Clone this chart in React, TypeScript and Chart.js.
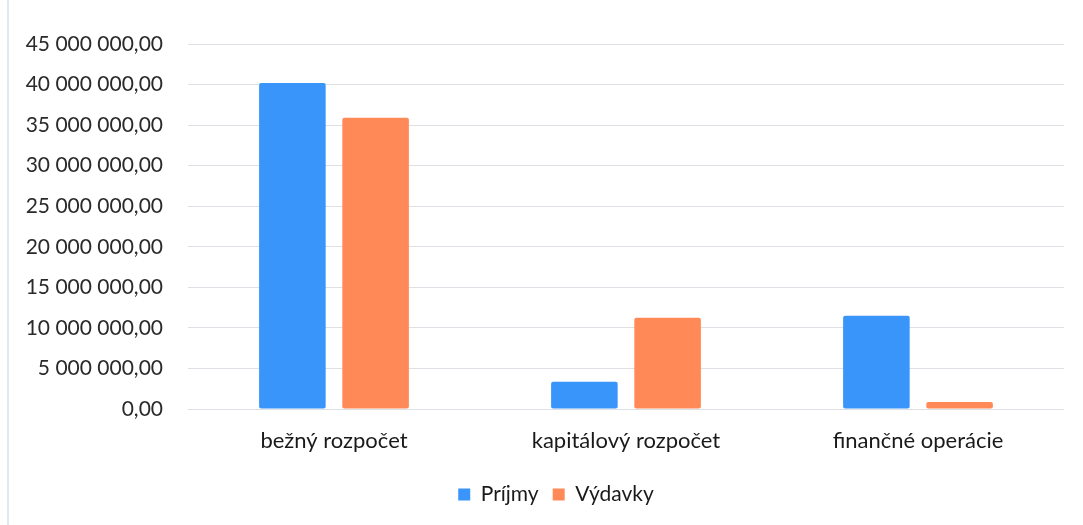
import React, { useEffect, useRef } from "react";
import { Chart, registerables } from "chart.js";

Chart.register(...registerables);

const categories = ["bežný rozpočet", "kapitálový rozpočet", "finančné operácie"];
const prijmy = [40200000, 3350000, 11500000];
const vydavky = [35900000, 11250000, 870000];
const seriesNames = ["Príjmy", "Výdavky"];
const yMax = 45000000;
const yStep = 5000000;

const FONT = "Lato, 'Open Sans', sans-serif";

function fmt(v: number): string {
  const [i, d] = Math.abs(v).toFixed(2).split(".");
  const withSpaces = i.replace(/\B(?=(\d{3})+(?!\d))/g, " ");
  return (v < 0 ? "-" : "") + withSpaces + "," + d;
}

const shiftLegend = {
  id: "shiftLegend",
  afterLayout(chart: any) {
    if (chart.legend) {
      chart.legend.left += 20;
      chart.legend.right += 20;
    }
  },
};

export default function App() {
  const ref = useRef<HTMLCanvasElement | null>(null);
  useEffect(() => {
    if (!ref.current) return;
    const chart = new Chart(ref.current, {
      type: "bar",
      data: {
        labels: categories,
        datasets: [
          {
            label: seriesNames[0],
            data: prijmy,
            backgroundColor: "#3a95fb",
            borderRadius: 2,
            borderSkipped: false,
            categoryPercentage: 0.57,
            barPercentage: 0.8,
          },
          {
            label: seriesNames[1],
            data: vydavky,
            backgroundColor: "#ff8a58",
            borderRadius: 2,
            borderSkipped: false,
            categoryPercentage: 0.57,
            barPercentage: 0.8,
          },
        ],
      },
      options: {
        responsive: false,
        animation: false,
        layout: { padding: { left: 8, right: 19, top: 44, bottom: 10 } },
        scales: {
          x: {
            grid: { display: false },
            border: { display: false },
            ticks: {
              color: "#1a1a1a",
              font: { family: FONT, size: 22 },
              padding: 11,
            },
            afterFit: (s: any) => {
              s.height = 61;
            },
          },
          y: {
            min: 0,
            max: yMax,
            ticks: {
              stepSize: yStep,
              color: "#2a2a2a",
              font: { family: FONT, size: 21 },
              padding: 25,
              callback: (v: any) => fmt(Number(v)),
            },
            grid: { color: "#dde1e6", lineWidth: 1, drawTicks: false },
            border: { display: false },
            afterFit: (s: any) => {
              s.width = 180;
            },
          },
        },
        plugins: {
          legend: {
            position: "bottom",
            labels: {
              boxWidth: 12,
              boxHeight: 12,
              padding: 14,
              color: "#1a1a1a",
              font: { family: FONT, size: 21 },
            },
          },
          tooltip: { enabled: false },
        },
      },
      plugins: [shiftLegend],
    });
    return () => chart.destroy();
  }, []);
  return (
    <div style={{ position: "fixed", left: 0, top: 0, width: 1083, height: 525, background: "#fff" }}>
      <div style={{ position: "absolute", left: 7, top: 0, width: 2, height: 525, background: "#e3e8ee" }} />
      <canvas ref={ref} width={1083} height={525} style={{ position: "absolute", left: 0, top: 0 }} />
    </div>
  );
}
